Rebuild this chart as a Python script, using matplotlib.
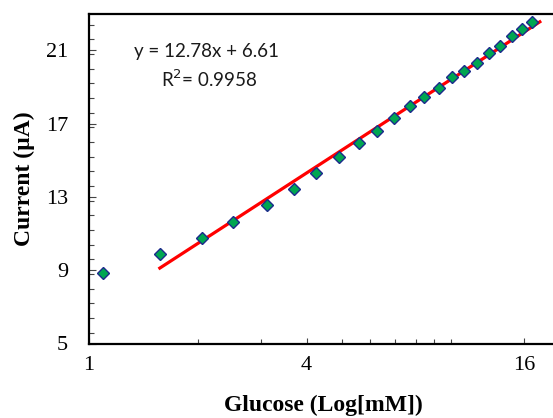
import numpy as np
import matplotlib
matplotlib.use("Agg")
import matplotlib.pyplot as plt
from matplotlib.ticker import FixedLocator, FixedFormatter, NullFormatter, MultipleLocator

# glucose concentration (mM) and measured current (uA)
conc = [1.09, 1.57, 2.05, 2.51, 3.11, 3.68, 4.24, 4.92, 5.58, 6.26, 6.99,
        7.73, 8.46, 9.30, 10.09, 10.89, 11.83, 12.78, 13.69, 14.80, 15.80, 16.82]
current = [8.82, 9.89, 10.73, 11.62, 12.54, 13.43, 14.31, 15.15, 15.91, 16.57, 17.28,
           17.93, 18.45, 18.93, 19.53, 19.84, 20.31, 20.85, 21.23, 21.76, 22.13, 22.54]

# linear fit against log10(conc)
slope, intercept, r2 = 12.78, 6.61, 0.9958
fit_range = [1.57, 17.66]

x_major = [1, 4, 16]
x_minor = [2, 3, 5, 6, 7, 8, 9, 10]
y_major = [5, 9, 13, 17, 21]

plt.rcParams['font.family'] = ['Liberation Serif', 'DejaVu Serif']

fig = plt.figure(figsize=(5.53, 4.18), dpi=100)
ax = fig.add_axes([89 / 553, 1 - 343.5 / 418, (557 - 89) / 553, 330 / 418])

fx = np.geomspace(fit_range[0], fit_range[1], 50)
ax.plot(fx, slope * np.log10(fx) + intercept, color='#ff0000', lw=2.3, zorder=2)
ax.plot(conc, current, ls='none', marker='D', ms=6.6, mfc='#00a651',
        mec='#1c2a8c', mew=1.0, zorder=3)

ax.set_xscale('log')
ax.set_xlim(1, 19.7)
ax.set_ylim(5, 23)
ax.xaxis.set_major_locator(FixedLocator(x_major))
ax.xaxis.set_major_formatter(FixedFormatter([str(v) for v in x_major]))
ax.xaxis.set_minor_locator(FixedLocator(x_minor))
ax.xaxis.set_minor_formatter(NullFormatter())
ax.yaxis.set_major_locator(FixedLocator(y_major))
ax.yaxis.set_minor_locator(MultipleLocator(0.8))

ax.tick_params(which='both', direction='in', top=False, right=False,
               labelsize=16, width=0.8, color='#444444')
ax.tick_params(axis='y', which='major', length=5, pad=15)
ax.tick_params(axis='y', which='minor', length=3.5)
ax.tick_params(axis='x', which='major', length=4, pad=9)
ax.tick_params(axis='x', which='minor', length=3.5)
for s in ax.spines.values():
    s.set_linewidth(1.6)

ax.set_xlabel('Glucose (Log[mM])', fontsize=17, fontweight='bold', labelpad=14)
ax.set_ylabel('Current (µA)', fontsize=17, fontweight='bold', labelpad=8)

fig.text(134 / 553, 1 - 52 / 418, 'y = %.2fx + %.2f' % (slope, intercept),
         family='Lato', fontsize=13.5, va='center', ha='left', color='#1a1a1a')
fig.text(161 / 553, 1 - 79 / 418, 'R$^{2}$= %.4f' % r2,
         family='Lato', fontsize=13.5, va='center', ha='left', color='#1a1a1a')

fig.savefig('out.png', dpi=100)
